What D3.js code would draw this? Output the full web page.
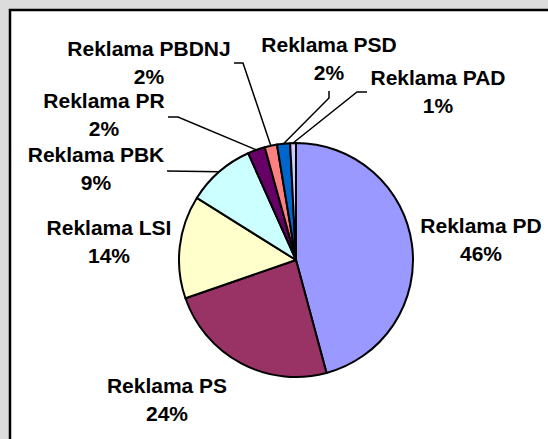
<!DOCTYPE html>
<html>
<head>
<meta charset="utf-8">
<style>
body { margin: 0; background: #dcdcdc; }
svg { display: block; }
text { font-family: "Liberation Sans", Arial, sans-serif; font-weight: bold; fill: #000; }
</style>
</head>
<body>
<svg width="548" height="439"></svg>
<script src="https://d3js.org/d3.v7.min.js"></script>
<script>
// slice data, clockwise from 12 o'clock
var categories = ["Reklama PD", "Reklama PS", "Reklama LSI", "Reklama PBK", "Reklama PR", "Reklama PBDNJ", "Reklama PSD", "Reklama PAD"];
var shares = [45.8, 23.9, 14.2, 9.4, 2.4, 1.7, 1.8, 0.8];
var percentLabels = ["46%", "24%", "14%", "9%", "2%", "2%", "2%", "1%"];
var colors = ["#9999ff", "#993366", "#ffffcc", "#ccffff", "#660066", "#ff8080", "#0066cc", "#ccccff"];

// label placement (center x, first baseline) and leader line start points
var labelPos = [[481, 233], [167, 393], [109, 235], [96, 162], [104, 108], [149, 56], [329, 52], [438, 85]];
var leaders = [null, null, null,
  [[167, 171]],
  [[168, 117], [178, 117]],
  [[234, 63], [243, 63]],
  [[329, 91], [329, 98]],
  [[367, 92], [357, 92]]];

var svg = d3.select("svg");
var cx = 296, cy = 260, r = 117;

// chart panel
svg.append("rect")
    .attr("x", 10).attr("y", 10)
    .attr("width", 560).attr("height", 460)
    .attr("fill", "#fff")
    .attr("stroke", "#000")
    .attr("stroke-width", 2.5);

var data = categories.map(function(c, i) { return {name: c, value: shares[i], pct: percentLabels[i], color: colors[i], i: i}; });

var pie = d3.pie().sort(null).value(function(d) { return d.value; });
var arcs = pie(data);
var arc = d3.arc().innerRadius(0).outerRadius(r);
var edge = d3.arc().innerRadius(r).outerRadius(r);

var g = svg.append("g").attr("transform", "translate(" + cx + "," + cy + ")");
g.selectAll("path")
  .data(arcs)
  .enter().append("path")
    .attr("d", arc)
    .attr("fill", function(d) { return d.data.color; })
    .attr("stroke", "#000")
    .attr("stroke-width", 2)
    .attr("stroke-linejoin", "round");

// leader lines
arcs.forEach(function(d, i) {
  if (!leaders[i]) return;
  var p = edge.centroid(d);
  var pts = leaders[i].concat([[cx + p[0], cy + p[1]]]);
  svg.append("path")
    .attr("d", d3.line()(pts))
    .attr("fill", "none")
    .attr("stroke", "#000")
    .attr("stroke-width", 1.5);
});

// labels
var labels = svg.selectAll("text.lbl")
  .data(data)
  .enter().append("text")
    .attr("class", "lbl")
    .attr("text-anchor", "middle")
    .attr("font-size", "21px")
    .attr("x", function(d) { return labelPos[d.i][0]; })
    .attr("y", function(d) { return labelPos[d.i][1]; });
labels.append("tspan")
    .attr("x", function(d) { return labelPos[d.i][0]; })
    .text(function(d) { return d.name; });
labels.append("tspan")
    .attr("x", function(d) { return labelPos[d.i][0]; })
    .attr("dy", 28)
    .text(function(d) { return d.pct; });
</script>
</body>
</html>
